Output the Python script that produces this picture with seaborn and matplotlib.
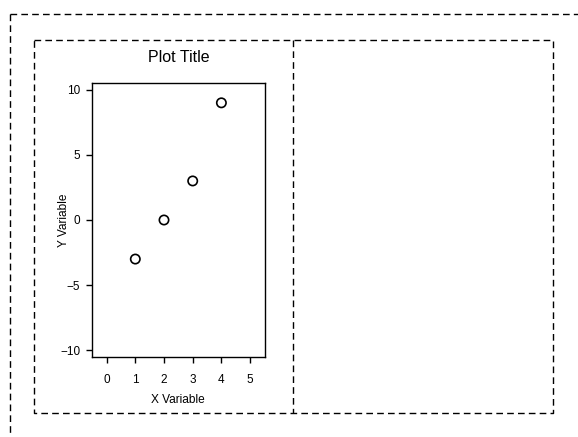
import matplotlib
matplotlib.use("Agg")
import matplotlib.pyplot as plt
from matplotlib.lines import Line2D
import seaborn as sns
import pandas as pd

# --- data ---
x_vals = [1, 2, 3, 4]
y_vals = [-3, 0, 3, 9]
x_ticks = [0, 1, 2, 3, 4, 5]
y_ticks = [-10, -5, 0, 5, 10]

df = pd.DataFrame({"x": x_vals, "y": y_vals})

sns.set_theme(style="ticks")
plt.rcParams["font.family"] = ["Liberation Sans", "DejaVu Sans"]
plt.rcParams["lines.scale_dashes"] = False
plt.rcParams["text.color"] = "black"
plt.rcParams["axes.labelcolor"] = "black"

W, H = 578, 437
fig = plt.figure(figsize=(W / 100, H / 100), dpi=100)
ax = fig.add_axes([91.7 / W, 1 - 356.7 / H, (265 - 91.7) / W, (356.7 - 83.3) / H])

sns.scatterplot(data=df, x="x", y="y", ax=ax, marker="o", s=45,
                facecolor="none", edgecolor="black", linewidth=1.2)

ax.set_xlim(-0.52, 5.52)
ax.set_ylim(-10.5, 10.5)
ax.set_xticks(x_ticks)
ax.set_yticks(y_ticks)
ax.set_yticklabels(["\u221210", "\u22125", "0", "5", "10"])
ax.tick_params(axis="both", direction="out", length=4.3, width=1.0,
               labelsize=8.5, colors="black")
ax.tick_params(axis="x", pad=8.0)
ax.tick_params(axis="y", pad=4.0)
for sp in ax.spines.values():
    sp.set_visible(True)
    sp.set_linewidth(1.0)
    sp.set_color("black")

ax.set_title("Plot Title", fontsize=11.5, pad=15, color="black")
ax.set_xlabel("X Variable", fontsize=8.6, color="black")
ax.set_ylabel("Y Variable", fontsize=8.6, color="black")
ax.xaxis.set_label_coords(0.5, -0.138)
ax.yaxis.set_label_coords(-0.125, 0.5)


def dashed(xs, ys, dash=(4.8, 3.0)):
    fig.add_artist(Line2D([x / W for x in xs], [1 - y / H for y in ys],
                          transform=fig.transFigure, color="black",
                          linewidth=1.0, linestyle=(0, dash)))


# outer frame (top and left)
dashed([10, W], [14, 14])
dashed([10, 10], [14, H])
# inner panel frame
dashed([34, 553, 553, 34, 34], [40, 40, 413, 413, 40])
dashed([293, 293], [40, 413])

fig.savefig("out.png", dpi=100)
